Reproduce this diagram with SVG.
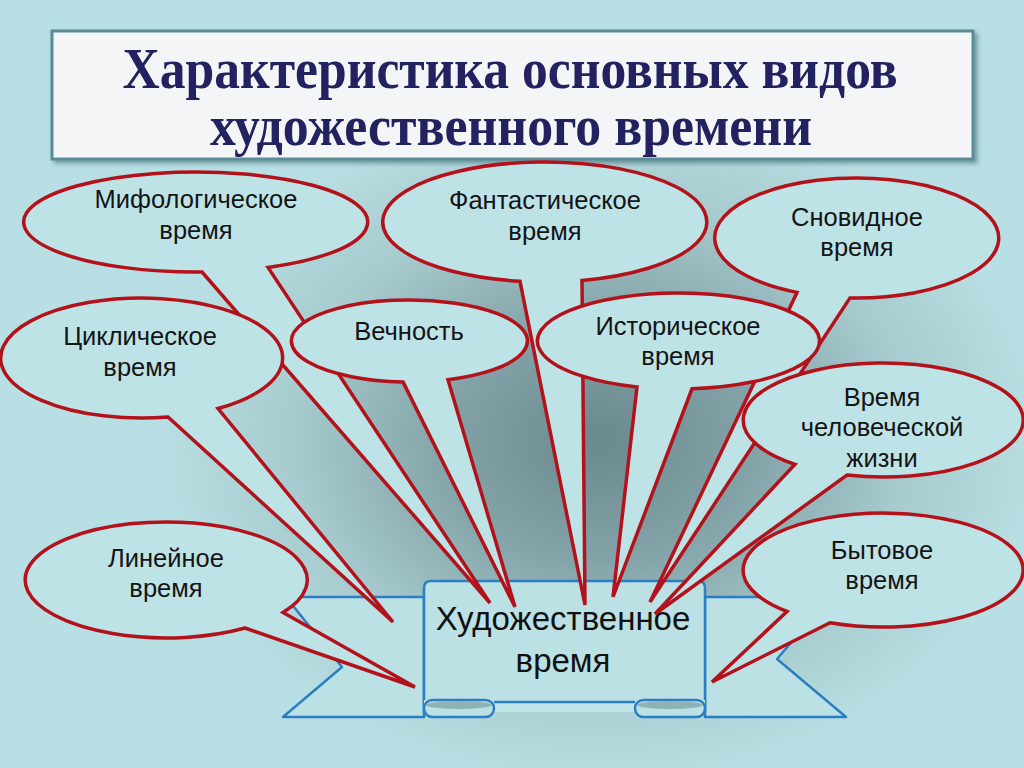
<svg xmlns="http://www.w3.org/2000/svg" width="1024" height="768" viewBox="0 0 1024 768">
<defs>
<radialGradient id="bg" gradientUnits="userSpaceOnUse" cx="600" cy="440" r="440" gradientTransform="translate(600 440) scale(1 0.78) translate(-600 -440)">
<stop offset="0" stop-color="#6a898e"/>
<stop offset="0.35" stop-color="#83a3a8"/>
<stop offset="0.7" stop-color="#a7cbcf"/>
<stop offset="1" stop-color="#b8dfe3"/>
</radialGradient>
<filter id="sh" x="-5%" y="-10%" width="110%" height="125%">
<feDropShadow dx="3" dy="3" stdDeviation="2" flood-color="#35606a" flood-opacity="0.55"/>
</filter>
<style>
.co{fill:#bee3e7;stroke:#b3121b;stroke-width:3.5;stroke-linejoin:miter}
.lb{font-family:"Liberation Sans",Arial,sans-serif;font-size:25.5px;fill:#141414;text-anchor:middle}
.bn{fill:#bbe1e5;stroke:#2b7fc1;stroke-width:2.5;stroke-linejoin:round}
.ti{font-family:"Liberation Serif","Times New Roman",serif;font-weight:bold;font-size:56px;fill:#21225f;text-anchor:middle}
.bt{font-family:"Liberation Sans",Arial,sans-serif;font-size:33px;fill:#111;text-anchor:middle}
</style>
</defs>
<rect x="0" y="0" width="1024" height="768" fill="url(#bg)"/>

<g id="title">
<rect x="52" y="31" width="921" height="128" fill="#f3f5f6" stroke="#5a8d96" stroke-width="3" filter="url(#sh)"/>
<text class="ti" x="510" y="88" textLength="775" lengthAdjust="spacingAndGlyphs">Характеристика основных видов</text>
<text class="ti" x="511" y="145" textLength="602" lengthAdjust="spacingAndGlyphs">художественного времени</text>
</g>

<g id="banner">
<path class="bn" d="M286,597 L424,597 L424,717 L283,717 L342,667 Z"/>
<path class="bn" d="M830,597 L705,597 L705,717 L846,717 L777,659 Z"/>
<path class="bn" d="M424,712 L424,588 Q424,581 431,581 L698,581 Q705,581 705,588 L705,712" fill="#bfe4e8"/>
<path d="M424,700 L705,700 L705,712 L424,712 Z" fill="#bfe4e8"/>
<line x1="494" y1="702" x2="635" y2="702" stroke="#2b7fc1" stroke-width="2.5"/>
<rect class="bn" x="424" y="700" width="70" height="17" rx="8.5"/>
<ellipse cx="459" cy="705" rx="33" ry="4" fill="#8fb2b7"/>
<rect class="bn" x="635" y="700" width="70" height="17" rx="8.5"/>
<ellipse cx="670" cy="705" rx="33" ry="4" fill="#8fb2b7"/>
<text class="bt" x="563" y="630">Художественное</text>
<text class="bt" x="563" y="672">время</text>
</g>

<g id="mifologicheskoe">
<path class="co" d="M202,272 L490,603 L268,267.4 A172,50 0 1 0 202,272 Z"/>
<text class="lb" x="196" y="208">Мифологическое</text>
<text class="lb" x="196" y="239">время</text>
</g>

<g id="fantasticheskoe">
<path class="co" d="M520,281.3 L585,605 L582,280.4 A162,60 0 1 0 520,281.3 Z"/>
<text class="lb" x="545" y="209">Фантастическое</text>
<text class="lb" x="545" y="240">время</text>
</g>

<g id="snovidnoe">
<path class="co" d="M797,292.4 L650,602 L850,297.9 A142,60 0 1 0 797,292.4 Z"/>
<text class="lb" x="857" y="226">Сновидное</text>
<text class="lb" x="857" y="256">время</text>
</g>

<g id="tsiklicheskoe">
<path class="co" d="M168,417 L393,622 L218,408.5 A141,60 0 1 0 168,417 Z"/>
<text class="lb" x="140" y="345">Циклическое</text>
<text class="lb" x="140" y="376">время</text>
</g>

<g id="vechnost">
<path class="co" d="M403,381.9 L515,607 L448,379.7 A118,41 0 1 0 403,381.9 Z"/>
<text class="lb" x="409" y="340">Вечность</text>
</g>

<g id="istoricheskoe">
<path class="co" d="M637,386.9 L613,597 L692,388.8 A141,48 0 1 0 637,386.9 Z"/>
<text class="lb" x="678" y="335">Историческое</text>
<text class="lb" x="678" y="365">время</text>
</g>

<g id="chelovecheskoy">
<path class="co" d="M795,464.3 L655,614 L847,475.1 A140,57 0 1 0 795,464.3 Z"/>
<text class="lb" x="882" y="406">Время</text>
<text class="lb" x="882" y="436">человеческой</text>
<text class="lb" x="882" y="467">жизни</text>
</g>

<g id="bytovoe">
<path class="co" d="M787,611.5 L712,682 L830,622.8 A140,57 0 1 0 787,611.5 Z"/>
<text class="lb" x="882" y="559">Бытовое</text>
<text class="lb" x="882" y="589">время</text>
</g>

<g id="lineynoe">
<path class="co" d="M245,628 L415,687 L283,612.4 A141,58 0 1 0 245,628 Z"/>
<text class="lb" x="166" y="567">Линейное</text>
<text class="lb" x="166" y="597">время</text>
</g>

<g id="connectors"></g>
</svg>
